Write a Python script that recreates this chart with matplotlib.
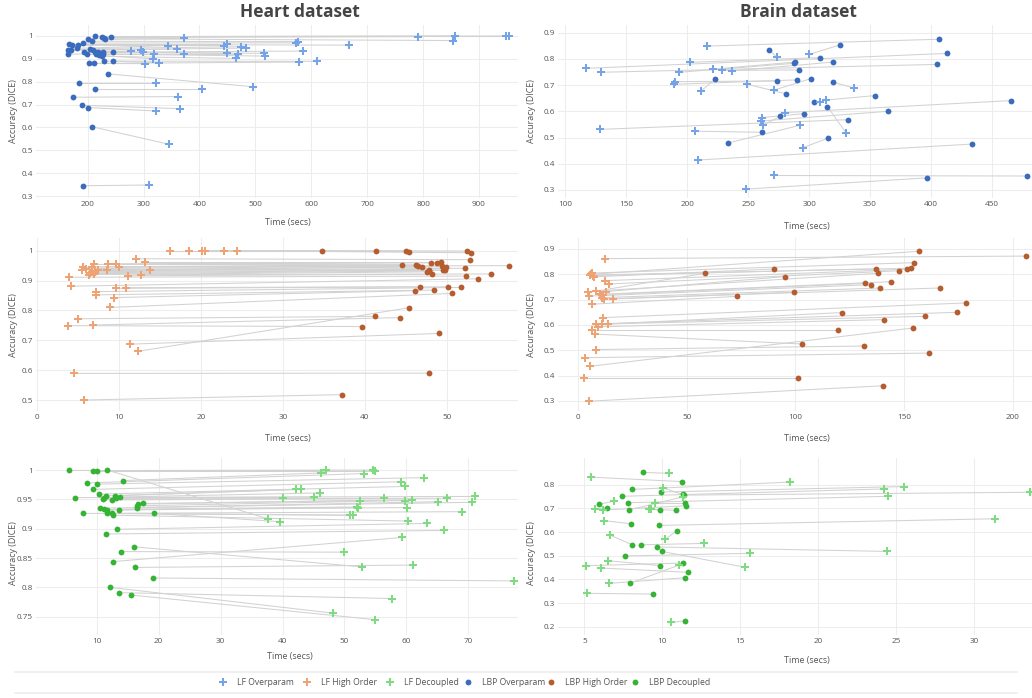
import matplotlib
matplotlib.use("Agg")
import matplotlib.pyplot as plt

plt.rcParams['font.family'] = ['Open Sans', 'DejaVu Sans']

# ---------------- data ----------------
# Heart / Overparam
hov_lf_x = [954, 948, 857, 791.5, 371.7, 854, 576, 572, 667, 449, 443, 344, 474, 483, 360, 296, 277.5, 584.6, 299.6, 449,
            515, 318, 373, 468, 518, 316, 465, 302.5, 578, 611, 327, 496, 322, 405, 362, 365, 321.6, 346, 310]
hov_lf_y = [1.0, 1.0, 1.0, 0.997, 0.99, 0.98, 0.975, 0.97, 0.96, 0.963, 0.958, 0.958, 0.953, 0.947, 0.943, 0.94, 0.933,
            0.934, 0.93, 0.924, 0.924, 0.92, 0.92, 0.92, 0.912, 0.9, 0.902, 0.879, 0.886, 0.889, 0.883, 0.778, 0.793,
            0.77, 0.735, 0.682, 0.672, 0.526, 0.348]
hov_lbp_x = [212.5, 225.6, 242, 229, 231, 201, 208, 192, 167, 172, 183, 180, 205, 209, 170, 164, 213, 228, 245, 193,
             218, 165, 199, 214, 227, 220, 225, 202, 212, 229, 245, 237, 184.5, 212.5, 173.8, 189, 200, 207.7, 191]
hov_lbp_y = [1.0, 0.997, 0.997, 0.993, 0.985, 0.988, 0.977, 0.969, 0.963, 0.959, 0.959, 0.946, 0.945, 0.939, 0.939,
             0.939, 0.931, 0.929, 0.929, 0.929, 0.93, 0.921, 0.92, 0.92, 0.921, 0.915, 0.911, 0.88, 0.88, 0.89, 0.89,
             0.834, 0.793, 0.77, 0.732, 0.697, 0.687, 0.603, 0.345]

# Brain / Overparam
bov_lf_x = [215.9, 299.9, 117, 129.5, 202.5, 193.5, 221.4, 228.5, 237, 190, 189.5, 211.6, 249.3, 271.4, 336.5, 313.8,
            308.9, 280.2, 261, 260.5, 261.9, 128.4, 206, 292.8, 330.5, 294.7, 208.8, 270.9, 248, 273.6]
bov_lf_y = [0.849, 0.817, 0.764, 0.749, 0.787, 0.749, 0.761, 0.756, 0.754, 0.713, 0.703, 0.679, 0.703, 0.681, 0.689,
            0.643, 0.637, 0.595, 0.576, 0.563, 0.547, 0.531, 0.524, 0.547, 0.516, 0.461, 0.414, 0.355, 0.303, 0.806]
bov_lbp_x = [406.5, 325, 413.4, 404.9, 309.2, 287.6, 288.7, 292, 319.6, 273.6, 290, 222.8, 281, 301.5, 319.8, 354, 304,
             465.9, 295.5, 364.4, 276.4, 331.6, 261.6, 233.4, 315, 315.2, 433.6, 479, 397, 267]
bov_lbp_y = [0.875, 0.853, 0.821, 0.779, 0.805, 0.783, 0.788, 0.758, 0.788, 0.716, 0.72, 0.722, 0.667, 0.725, 0.711,
             0.66, 0.636, 0.641, 0.591, 0.6, 0.581, 0.568, 0.52, 0.479, 0.618, 0.497, 0.475, 0.353, 0.346, 0.835]

# Heart / High Order
hho_lf_x = [16.25, 18.57, 20.15, 20.52, 22.8, 24.35, 5.74, 4.52, 12.3, 11.36, 3.71, 6.76, 4.93, 8.88,
            12.09, 13.19, 8.59, 9.57, 6.96, 6.72, 10.02, 5.62, 5.9, 13.8, 5.42, 7.45, 8.55, 7.0, 6.43, 6.96,
            6.35, 12.7, 11.1, 3.87, 4.11, 10.87, 9.57, 7.17, 7.17, 9.36]
hho_lf_y = [1.0, 1.0, 1.0, 1.0, 1.0, 1.0, 0.5, 0.589, 0.663, 0.687, 0.749, 0.751, 0.772, 0.81,
            0.973, 0.963, 0.956, 0.954, 0.954, 0.946, 0.945, 0.945, 0.94, 0.936, 0.936, 0.934, 0.934, 0.93, 0.926,
            0.923, 0.92, 0.92, 0.916, 0.911, 0.881, 0.876, 0.874, 0.863, 0.852, 0.843]
hho_lbp_x = [34.77, 41.4, 45.0, 45.4, 52.5, 53.0, 37.2, 47.8, 45.4, 49.1, 39.7, 44.3, 41.2, 50.7,
             52.8, 49.3, 48.1, 48.8, 44.5, 46.3, 46.5, 57.65, 49.4, 47.0, 49.9, 52.2, 47.9, 49.5, 49.8, 47.8,
             47.6, 55.4, 48.2, 52.4, 53.8, 46.7, 50.2, 51.8, 48.4, 46.1]
hho_lbp_y = [1.0, 1.0, 0.999, 0.997, 0.999, 0.993, 0.518, 0.59, 0.809, 0.723, 0.746, 0.776, 0.78, 0.857,
             0.97, 0.963, 0.96, 0.96, 0.953, 0.953, 0.95, 0.95, 0.949, 0.946, 0.946, 0.941, 0.937, 0.935, 0.935,
             0.932, 0.929, 0.922, 0.921, 0.915, 0.906, 0.879, 0.879, 0.877, 0.868, 0.866]

# Brain / High Order
bho_lf_x = [4.8, 2.8, 5.5, 3.2, 8.3, 7.7, 6.3, 12.4, 6.0,
            6.2, 5.4, 6.6, 7.0, 12.4, 14.3, 8.3, 4.6, 12.7, 10.1, 11.0, 4.8, 10.9, 11.7, 16.1, 6.3, 11.2, 10.9,
            13.7, 8.1, 9.2]
bho_lf_y = [0.299, 0.389, 0.437, 0.471, 0.503, 0.564, 0.582, 0.862, 0.8,
            0.805, 0.797, 0.795, 0.79, 0.775, 0.762, 0.734, 0.732, 0.732, 0.721, 0.72, 0.714, 0.708, 0.703, 0.703,
            0.682, 0.629, 0.605, 0.604, 0.603, 0.593]
bho_lbp_x = [140.3, 101.3, 154, 161.5, 131.7, 102.8, 119.6, 206.1, 156.7,
             154.6, 153.2, 137.1, 89.9, 151.5, 147.5, 58.3, 138.0, 95.2, 144.1, 132.2, 134.6, 138.9, 166.4, 99.3,
             73.2, 178.5, 174.2, 121.6, 159.6, 140.6]
bho_lbp_y = [0.36, 0.389, 0.588, 0.489, 0.517, 0.525, 0.582, 0.872, 0.891,
             0.846, 0.824, 0.822, 0.821, 0.82, 0.814, 0.804, 0.804, 0.791, 0.771, 0.764, 0.759, 0.746, 0.746, 0.729,
             0.713, 0.687, 0.65, 0.649, 0.634, 0.621]

# Heart / Decoupled
hde_lf_x = [47.0, 37.6, 77.3, 48.2, 57.7, 54.9, 52.8, 49.9, 59.3, 61.1, 63.3, 66.1,
            54.6, 55.0, 46.2, 53.2, 62.8, 59.1, 59.7, 42.1, 43.0, 46.1, 71.0, 45.1, 40.0, 56.4, 66.6, 60.9, 52.5,
            59.8, 65.1, 70.6, 52.1, 52.2, 60.1, 68.9, 50.9, 51.3, 39.6, 60.3]
hde_lf_y = [1.0, 0.917, 0.811, 0.756, 0.781, 0.745, 0.835, 0.86, 0.885, 0.838, 0.909, 0.897,
            1.0, 0.998, 0.995, 0.994, 0.987, 0.98, 0.972, 0.967, 0.967, 0.961, 0.955, 0.954, 0.953, 0.952, 0.952,
            0.949, 0.948, 0.948, 0.946, 0.945, 0.937, 0.936, 0.936, 0.929, 0.923, 0.923, 0.912, 0.913]
hde_lbp_x = [5.6, 11.7, 19.1, 12.2, 13.6, 15.5, 16.1, 13.9, 12.7, 16.2, 13.2, 11.45,
             9.4, 10.05, 14.25, 8.5, 10.05, 9.35, 10.3, 11.45, 13.0, 13.8, 6.55, 11.1, 13.1, 11.0, 12.4, 17.4, 16.6,
             16.5, 16.5, 10.6, 11.2, 11.6, 13.6, 7.8, 11.7, 12.5, 19.2, 12.6]
hde_lbp_y = [1.0, 1.0, 0.816, 0.8, 0.791, 0.787, 0.869, 0.861, 0.844, 0.834, 0.899, 0.891,
             0.999, 0.998, 0.982, 0.978, 0.976, 0.967, 0.959, 0.956, 0.956, 0.954, 0.953, 0.952, 0.952, 0.95, 0.949,
             0.943, 0.942, 0.939, 0.936, 0.935, 0.933, 0.932, 0.932, 0.926, 0.926, 0.926, 0.926, 0.923]

# Brain / Decoupled
bde_lf_x = [10.45, 5.43, 18.16, 25.47, 24.19, 10.02, 33.55, 24.49, 11.35, 6.92, 9.53, 5.66, 6.22, 9.12, 9.3, 6.28,
            31.3, 10.19, 6.65, 12.7, 24.4, 15.32, 15.6, 6.5, 11.1, 5.1, 6.07, 6.56, 5.15, 10.56]
bde_lf_y = [0.848, 0.832, 0.811, 0.792, 0.782, 0.787, 0.768, 0.751, 0.749, 0.73, 0.724, 0.696, 0.693, 0.696, 0.696,
            0.648, 0.656, 0.569, 0.587, 0.552, 0.518, 0.451, 0.51, 0.479, 0.461, 0.458, 0.448, 0.383, 0.341, 0.218]
bde_lbp_x = [8.74, 11.28, 8.06, 9.9, 7.41, 11.3, 11.37, 7.78, 7.84, 5.96, 11.43, 6.47, 11.54, 9.83, 10.9, 7.99,
             9.79, 10.94, 8.08, 8.61, 9.68, 9.98, 7.61, 9.87, 7.9, 11.35, 11.65, 11.45, 9.42, 11.45]
bde_lbp_y = [0.852, 0.813, 0.78, 0.769, 0.751, 0.759, 0.756, 0.724, 0.693, 0.718, 0.724, 0.703, 0.711, 0.693, 0.692,
             0.635, 0.628, 0.606, 0.546, 0.546, 0.537, 0.518, 0.499, 0.458, 0.383, 0.469, 0.43, 0.407, 0.338, 0.225]

series_names = ['LF Overparam', 'LF High Order', 'LF Decoupled', 'LBP Overparam', 'LBP High Order', 'LBP Decoupled']
lf_colors = ['#74a3e8', '#eea374', '#7fdb7f']
lbp_colors = ['#3b6bbd', '#b65d2f', '#35b335']

heart_xticks = [[200, 300, 400, 500, 600, 700, 800, 900], [0, 10, 20, 30, 40, 50], [10, 20, 30, 40, 50, 60, 70]]
brain_xticks = [[100, 150, 200, 250, 300, 350, 400, 450], [0, 50, 100, 150, 200], [5, 10, 15, 20, 25, 30]]
heart_yticks = [[0.3, 0.4, 0.5, 0.6, 0.7, 0.8, 0.9, 1.0], [0.5, 0.6, 0.7, 0.8, 0.9, 1.0],
                [0.75, 0.8, 0.85, 0.9, 0.95, 1.0]]
brain_yticks = [[0.3, 0.4, 0.5, 0.6, 0.7, 0.8, 0.9], [0.3, 0.4, 0.5, 0.6, 0.7, 0.8, 0.9],
                [0.2, 0.3, 0.4, 0.5, 0.6, 0.7, 0.8]]

panels = [
    (0, 0, hov_lf_x, hov_lf_y, hov_lbp_x, hov_lbp_y, 0),
    (0, 1, bov_lf_x, bov_lf_y, bov_lbp_x, bov_lbp_y, 0),
    (1, 0, hho_lf_x, hho_lf_y, hho_lbp_x, hho_lbp_y, 1),
    (1, 1, bho_lf_x, bho_lf_y, bho_lbp_x, bho_lbp_y, 1),
    (2, 0, hde_lf_x, hde_lf_y, hde_lbp_x, hde_lbp_y, 2),
    (2, 1, bde_lf_x, bde_lf_y, bde_lbp_x, bde_lbp_y, 2),
]

# ---------------- layout (pixels) ----------------
W, H = 1032, 698
fig = plt.figure(figsize=(W / 100, H / 100), dpi=100)
col_x = [(36, 518), (558, 1056)]
row_y = [(25, 198), (238, 411), (458, 635)]
xlims = {(0, 0): (107.5, 969.8), (0, 1): (94.0, 502.5),
         (1, 0): (-0.159, 58.71), (1, 1): (-9.35, 219.98),
         (2, 0): (0.2, 78.02), (2, 1): (3.314, 35.24)}
ylims = {(0, 0): (0.2913, 1.048), (0, 1): (0.2691, 0.9294),
         (1, 0): (0.4632, 1.0425), (1, 1): (0.2604, 0.9434),
         (2, 0): (0.7188, 1.0205), (2, 1): (0.165, 0.9128)}

tick_color = '#555555'
grid_color = '#ededed'

for (r, c, lx, ly, bx, by, ci) in panels:
    x0, x1 = col_x[c]
    y0, y1 = row_y[r]
    ax = fig.add_axes([x0 / W, 1 - y1 / H, (x1 - x0) / W, (y1 - y0) / H])
    for s in ax.spines.values():
        s.set_visible(False)
    ax.set_facecolor('none')
    for i in range(len(lx)):
        ax.plot([bx[i], lx[i]], [by[i], ly[i]], color='#d2d2d2', lw=0.75, zorder=2, solid_capstyle='round')
    ax.plot(bx, by, 'o', color=lbp_colors[ci], ms=4.2, mew=0, zorder=3)
    ax.plot(lx, ly, 'P', color=lf_colors[ci], ms=5.8, mew=0, zorder=4)
    ax.set_xlim(*xlims[(r, c)])
    ax.set_ylim(*ylims[(r, c)])
    xt = heart_xticks[r] if c == 0 else brain_xticks[r]
    yt = heart_yticks[r] if c == 0 else brain_yticks[r]
    ax.set_xticks(xt)
    ax.set_xticklabels(['%g' % v for v in xt])
    ax.set_yticks(yt)
    ax.set_yticklabels(['%g' % v for v in yt])
    ax.tick_params(length=0, labelsize=5.9, colors=tick_color, pad=2.2)
    ax.grid(True, color=grid_color, lw=0.8, zorder=0)
    ax.set_axisbelow(True)

# titles
fig.text(300 / W, 1 - 12 / H, 'Heart dataset', ha='center', va='center', fontsize=12.5,
         fontweight='bold', color='#444444')
fig.text(798 / W, 1 - 12 / H, 'Brain dataset', ha='center', va='center', fontsize=12.5,
         fontweight='bold', color='#444444')

# axis titles
xlab_pos = [((288, 223), (807, 227)), ((288, 438), (807, 439)), ((290, 657), (807, 660))]
ylab_y = [111, 325, 553]
for r in range(3):
    for c in range(2):
        px, py = xlab_pos[r][c]
        fig.text(px / W, 1 - py / H, 'Time (secs)', ha='center', va='center', fontsize=6.4, color=tick_color)
        fig.text((13 if c == 0 else 531) / W, 1 - ylab_y[r] / H, 'Accuracy (DICE)', ha='center', va='center',
                 rotation=90, fontsize=6.4, color=tick_color)

# legend band
lax = fig.add_axes([0, 0, 1, 1])
lax.set_xlim(0, W)
lax.set_ylim(H, 0)
lax.axis('off')
lax.plot([15, 1017], [672, 672], color='#eeeeee', lw=1.2)
lax.plot([15, 1017], [693, 693], color='#eeeeee', lw=1.2)
leg_x = [222.7, 306.7, 390, 467.7, 551, 635]
leg_colors = lf_colors + lbp_colors
leg_markers = ['P', 'P', 'P', 'o', 'o', 'o']
for i, name in enumerate(series_names):
    lax.plot([leg_x[i]], [682.3], leg_markers[i], color=leg_colors[i], ms=5.8 if leg_markers[i] == 'P' else 4.2,
             mew=0)
    lax.text(leg_x[i] + 14, 682.3, name, ha='left', va='center', fontsize=6.2, color=tick_color)

fig.savefig('out.png', dpi=100)
